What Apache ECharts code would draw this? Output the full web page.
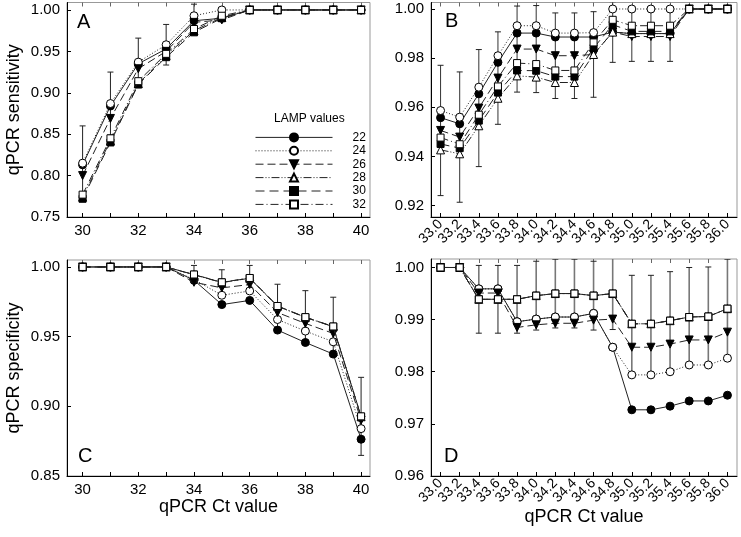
<!DOCTYPE html>
<html>
<head>
<meta charset="utf-8">
<script src="https://cdn.jsdelivr.net/npm/echarts@6/dist/echarts.min.js"></script>
<style>html,body{margin:0;padding:0;background:#fff}#c{width:741px;height:537px}</style>
</head>
<body>
<div id="c"></div>
<script>
// ---------- data ----------
const seriesNames = ['22', '24', '26', '28', '30', '32'];

const xAC = [30, 31, 32, 33, 34, 35, 36, 37, 38, 39, 40];
const xTicksAC = [30, 31, 32, 33, 34, 35, 36, 37, 38, 39, 40];
const xLabelsAC = [30, 32, 34, 36, 38, 40];

const xBD = [33.0, 33.2, 33.4, 33.6, 33.8, 34.0, 34.2, 34.4, 34.6, 34.8, 35.0, 35.2, 35.4, 35.6, 35.8, 36.0];
const xLabelsBD1 = [33.0, 33.4, 33.8, 34.2, 34.6, 35.0, 35.4, 35.8];
const xLabelsBD2 = [33.2, 33.6, 34.0, 34.4, 34.8, 35.2, 35.6, 36.0];

const yTicksA = [0.75, 0.80, 0.85, 0.90, 0.95, 1.00];
const yTicksB = [0.92, 0.94, 0.96, 0.98, 1.00];
const yTicksC = [0.85, 0.90, 0.95, 1.00];
const yTicksD = [0.96, 0.97, 0.98, 0.99, 1.00];

// Panel A: sensitivity vs Ct 30-40
const sensA22 = [0.813, 0.884, 0.935, 0.953, 0.987, 0.990, 1, 1, 1, 1, 1];
const sensA24 = [0.815, 0.887, 0.937, 0.958, 0.993, 1.000, 1, 1, 1, 1, 1];
const sensA26 = [0.800, 0.869, 0.929, 0.950, 0.985, 0.988, 1, 1, 1, 1, 1];
const sensA28 = [0.774, 0.842, 0.911, 0.945, 0.975, 0.991, 1, 1, 1, 1, 1];
const sensA30 = [0.772, 0.840, 0.910, 0.943, 0.973, 0.990, 1, 1, 1, 1, 1];
const sensA32 = [0.777, 0.845, 0.914, 0.947, 0.977, 0.993, 1, 1, 1, 1, 1];
const errA24 = [0.045, 0.038, 0.029, 0.0245, 0.014, 0, 0, 0, 0, 0, 0];

// Panel B: sensitivity vs Ct 33-36
const sensB22 = [0.9558, 0.9533, 0.9655, 0.9783, 0.9902, 0.9902, 0.9886, 0.9886, 0.9886, 0.9906, 0.9900, 0.9900, 0.9900, 1, 1, 1];
const sensB24 = [0.9587, 0.9560, 0.9682, 0.9810, 0.9932, 0.9932, 0.9902, 0.9902, 0.9904, 1, 1, 1, 1, 1, 1, 1];
const sensB26 = [0.9506, 0.9479, 0.9597, 0.9719, 0.9837, 0.9837, 0.9810, 0.9810, 0.9815, 0.9906, 0.9888, 0.9888, 0.9888, 1, 1, 1];
const sensB28 = [0.9427, 0.9411, 0.9525, 0.9637, 0.9728, 0.9723, 0.9701, 0.9701, 0.9815, 0.9906, 0.9900, 0.9900, 0.9900, 1, 1, 1];
const sensB30 = [0.9451, 0.9434, 0.9546, 0.9660, 0.9750, 0.9749, 0.9725, 0.9725, 0.9841, 0.9936, 0.9909, 0.9909, 0.9909, 1, 1, 1];
const sensB32 = [0.9477, 0.9450, 0.9570, 0.9685, 0.9780, 0.9776, 0.9750, 0.9750, 0.9864, 0.9956, 0.9932, 0.9932, 0.9932, 1, 1, 1];
const errB26 = [0.0265, 0.0265, 0.0238, 0.0188, 0.0175, 0.0177, 0.0174, 0.0174, 0.0174, 0.0123, 0.0101, 0.0101, 0.0101, 0, 0, 0];

// Panel C: specificity vs Ct 30-40
const specC22 = [1, 1, 1, 1, 0.9905, 0.9730, 0.9760, 0.9547, 0.9458, 0.9375, 0.8764];
const specC24 = [1, 1, 1, 1, 0.9910, 0.9797, 0.9828, 0.9623, 0.9540, 0.9463, 0.8840];
const specC26 = [1, 1, 1, 1, 0.9890, 0.9850, 0.9874, 0.9673, 0.9595, 0.9523, 0.8900];
const specC28 = [1, 1, 1, 1, 0.9944, 0.9888, 0.9919, 0.9718, 0.9638, 0.9571, 0.8925];
const specC30 = [1, 1, 1, 1, 0.9945, 0.9889, 0.9920, 0.9719, 0.9639, 0.9572, 0.8926];
const specC32 = [1, 1, 1, 1, 0.9946, 0.9890, 0.9921, 0.9720, 0.9640, 0.9573, 0.8928];
const errC32 = [0, 0, 0, 0, 0.0065, 0.0090, 0.0090, 0.0156, 0.0190, 0.0210, 0.0280];

// Panel D: specificity vs Ct 33-36
const specD22 = [1, 1, 0.9959, 0.9959, 0.9896, 0.9901, 0.9905, 0.9905, 0.9912, 0.9847, 0.9727, 0.9727, 0.9734, 0.9744, 0.9744, 0.9755];
const specD24 = [1, 1, 0.9959, 0.9959, 0.9896, 0.9901, 0.9905, 0.9905, 0.9912, 0.9847, 0.9794, 0.9794, 0.9800, 0.9813, 0.9813, 0.9826];
const specD26 = [1, 1, 0.9951, 0.9951, 0.9885, 0.9890, 0.9893, 0.9893, 0.9899, 0.9901, 0.9847, 0.9847, 0.9853, 0.9861, 0.9861, 0.9876];
const specD28 = [1, 1, 0.9939, 0.9939, 0.9939, 0.9946, 0.9950, 0.9950, 0.9946, 0.9950, 0.9892, 0.9892, 0.9898, 0.9905, 0.9906, 0.9921];
const specD30 = [1, 1, 0.9939, 0.9939, 0.9939, 0.9946, 0.9950, 0.9950, 0.9946, 0.9950, 0.9892, 0.9892, 0.9898, 0.9905, 0.9906, 0.9921];
const specD32 = [1, 1, 0.9939, 0.9939, 0.9939, 0.9946, 0.9950, 0.9950, 0.9946, 0.9950, 0.9892, 0.9892, 0.9898, 0.9905, 0.9906, 0.9921];
const errD32 = [0, 0, 0.0065, 0.0065, 0.0065, 0.0066, 0.0066, 0.0066, 0.0066, 0.0069, 0.0093, 0.0093, 0.0094, 0.0095, 0.0095, 0.0095];

// ---------- styles ----------
const FONT = 'Liberation Sans, Arial, sans-serif';
const styles = [
  { symbol: 'circle', size: 8, rotate: 0, fill: '#000', dash: 'solid' },
  { symbol: 'circle', size: 8, rotate: 0, fill: '#fff', dash: [1, 2] },
  { symbol: 'triangle', size: 8, rotate: 180, fill: '#000', dash: [8, 4] },
  { symbol: 'triangle', size: 8, rotate: 0, fill: '#fff', dash: [8, 2, 1, 2, 1, 2] },
  { symbol: 'rect', size: 7, rotate: 0, fill: '#000', dash: [9, 5] },
  { symbol: 'rect', size: 7, rotate: 0, fill: '#fff', dash: [8, 3, 1, 3] }
];

const panels = [
  { xs: xAC, data: [sensA22, sensA24, sensA26, sensA28, sensA30, sensA32], err: errA24, errIdx: 1, errColor: '#222', errWidth: 1 },
  { xs: xBD, data: [sensB22, sensB24, sensB26, sensB28, sensB30, sensB32], err: errB26, errIdx: 2, errColor: '#333', errWidth: 1 },
  { xs: xAC, data: [specC22, specC24, specC26, specC28, specC30, specC32], err: errC32, errIdx: 5, errColor: '#222', errWidth: 1 },
  { xs: xBD, data: [specD22, specD24, specD26, specD28, specD30, specD32], err: errD32, errIdx: 5, errColor: '#777', errWidth: 1.6 }
];

const grids = [
  { left: 67, top: 2.5, width: 303, height: 214.5 },
  { left: 431, top: 2.5, width: 306, height: 214.5 },
  { left: 67, top: 260, width: 303, height: 216 },
  { left: 431, top: 259, width: 306, height: 217 }
].map(g => Object.assign({ show: true, borderColor: '#999', borderWidth: 1, backgroundColor: 'transparent' }, g));

const labelStyle = { color: '#000', fontFamily: FONT, fontSize: 15 };

function bottomAxis(gi, min, max, tickVals, labelVals, rotate, fmt, name, nameGap, bare) {
  return {
    type: 'value', gridIndex: gi, position: 'bottom', min: min, max: max,
    splitLine: { show: false },
    axisLine: { show: !bare, onZero: false, lineStyle: { color: '#000', width: 1 } },
    axisTick: { show: !bare, inside: true, length: 4, customValues: tickVals, lineStyle: { color: '#000' } },
    axisLabel: Object.assign({ customValues: labelVals, margin: rotate ? 5 : 6, rotate: rotate, formatter: fmt, showMinLabel: true, showMaxLabel: true, hideOverlap: false }, labelStyle, rotate ? { fontSize: 14 } : {}),
    name: name || '', nameLocation: 'middle', nameGap: nameGap || 0,
    nameTextStyle: { color: '#000', fontFamily: FONT, fontSize: 18 }
  };
}
function topAxis(gi, min, max, tickVals) {
  return {
    type: 'value', gridIndex: gi, position: 'top', min: min, max: max,
    splitLine: { show: false },
    axisLine: { show: false },
    axisTick: { show: true, inside: true, length: 4, customValues: tickVals, lineStyle: { color: '#666' } },
    axisLabel: { show: false }
  };
}
function leftAxis(gi, min, max, tickVals, name) {
  return {
    type: 'value', gridIndex: gi, position: 'left', min: min, max: max,
    splitLine: { show: false },
    axisLine: { show: true, onZero: false, lineStyle: { color: '#000', width: 1 } },
    axisTick: { show: true, inside: true, length: 4, customValues: tickVals, lineStyle: { color: '#000' } },
    axisLabel: Object.assign({ customValues: tickVals, margin: 7, formatter: v => v.toFixed(2), showMinLabel: true, showMaxLabel: true }, labelStyle),
    name: name || '', nameLocation: 'middle', nameGap: 44, nameRotate: 90,
    nameTextStyle: { color: '#000', fontFamily: FONT, fontSize: 18 }
  };
}

const fmtInt = v => String(Math.round(v));
const fmt1 = v => v.toFixed(1);

const xAxes = [
  bottomAxis(0, 29.44, 40.32, xTicksAC, xLabelsAC, 0, fmtInt),
  bottomAxis(1, 32.9, 36.1, xBD, xLabelsBD1, 45, fmt1),
  bottomAxis(2, 29.44, 40.32, xTicksAC, xLabelsAC, 0, fmtInt, 'qPCR Ct value', 21),
  bottomAxis(3, 32.9, 36.1, xBD, xLabelsBD1, 45, fmt1, 'qPCR Ct value', 32),
  topAxis(0, 29.44, 40.32, xTicksAC),
  topAxis(1, 32.9, 36.1, xBD),
  topAxis(2, 29.44, 40.32, xTicksAC),
  topAxis(3, 32.9, 36.1, xBD),
  bottomAxis(1, 32.9, 36.1, xBD, xLabelsBD2, 45, fmt1, '', 0, true),
  bottomAxis(3, 32.9, 36.1, xBD, xLabelsBD2, 45, fmt1, '', 0, true)
];
const yAxes = [
  leftAxis(0, 0.75, 1.009, yTicksA, 'qPCR sensitivity'),
  leftAxis(1, 0.9154, 1.00264, yTicksB),
  leftAxis(2, 0.85, 1.005, yTicksC, 'qPCR specificity'),
  leftAxis(3, 0.96, 1.00163, yTicksD)
];

function makeErrRender(color, width) {
  return function (params, api) {
    const x = api.value(0), y = api.value(1), e = api.value(2);
    if (!e) return null;
    const t = api.coord([x, y + e]);
    const b = api.coord([x, y - e]);
    const w = 3;
    return {
      type: 'group',
      children: [
        { type: 'line', shape: { x1: t[0], y1: t[1], x2: b[0], y2: b[1] }, style: { stroke: color, lineWidth: width } },
        { type: 'line', shape: { x1: t[0] - w, y1: t[1], x2: t[0] + w, y2: t[1] }, style: { stroke: '#222', lineWidth: 1 } },
        { type: 'line', shape: { x1: b[0] - w, y1: b[1], x2: b[0] + w, y2: b[1] }, style: { stroke: '#222', lineWidth: 1 } }
      ]
    };
  };
}

const series = [];
panels.forEach((p, pi) => {
  series.push({
    type: 'custom', name: 'err' + pi, xAxisIndex: pi, yAxisIndex: pi, clip: true, z: 1,
    renderItem: makeErrRender(p.errColor, p.errWidth),
    data: p.xs.map((x, i) => [x, p.data[p.errIdx][i], p.err[i]])
  });
  p.data.forEach((arr, si) => {
    const s = styles[si];
    series.push({
      type: 'line', name: seriesNames[si], xAxisIndex: pi, yAxisIndex: pi, z: 3 + si,
      data: p.xs.map((x, i) => [x, arr[i]]),
      symbol: s.symbol, symbolSize: s.size, symbolRotate: s.rotate, showAllSymbol: true,
      lineStyle: { color: '#222', width: 1, type: s.dash },
      itemStyle: { color: s.fill, borderColor: '#000', borderWidth: 1 },
      emphasis: { disabled: true },
      animation: false
    });
  });
});

const letter = (t, x, y) => ({ type: 'text', left: x, top: y, style: { text: t, fontSize: 20, fontFamily: FONT, fill: '#000' } });

const option = {
  animation: false,
  backgroundColor: '#fff',
  grid: grids,
  xAxis: xAxes,
  yAxis: yAxes,
  legend: {
    data: seriesNames,
    orient: 'vertical',
    left: 255, top: 131.4, padding: 0,
    itemWidth: 77, itemHeight: 10, itemGap: 1.4,
    lineStyle: { width: 1 },
    textStyle: { color: '#000', fontFamily: FONT, fontSize: 12, lineHeight: 10, padding: [0, 0, 0, 15] },
    selectedMode: false
  },
  graphic: [
    letter('A', 77, 12),
    letter('B', 445, 11),
    letter('C', 78, 446),
    letter('D', 444, 446),
    { type: 'text', left: 274, top: 113, style: { text: 'LAMP values', fontSize: 12, fontFamily: FONT, fill: '#000' } }
  ],
  series: series
};

const chart = echarts.init(document.getElementById('c'), null, { renderer: 'canvas' });
chart.setOption(option);
</script>
</body>
</html>
